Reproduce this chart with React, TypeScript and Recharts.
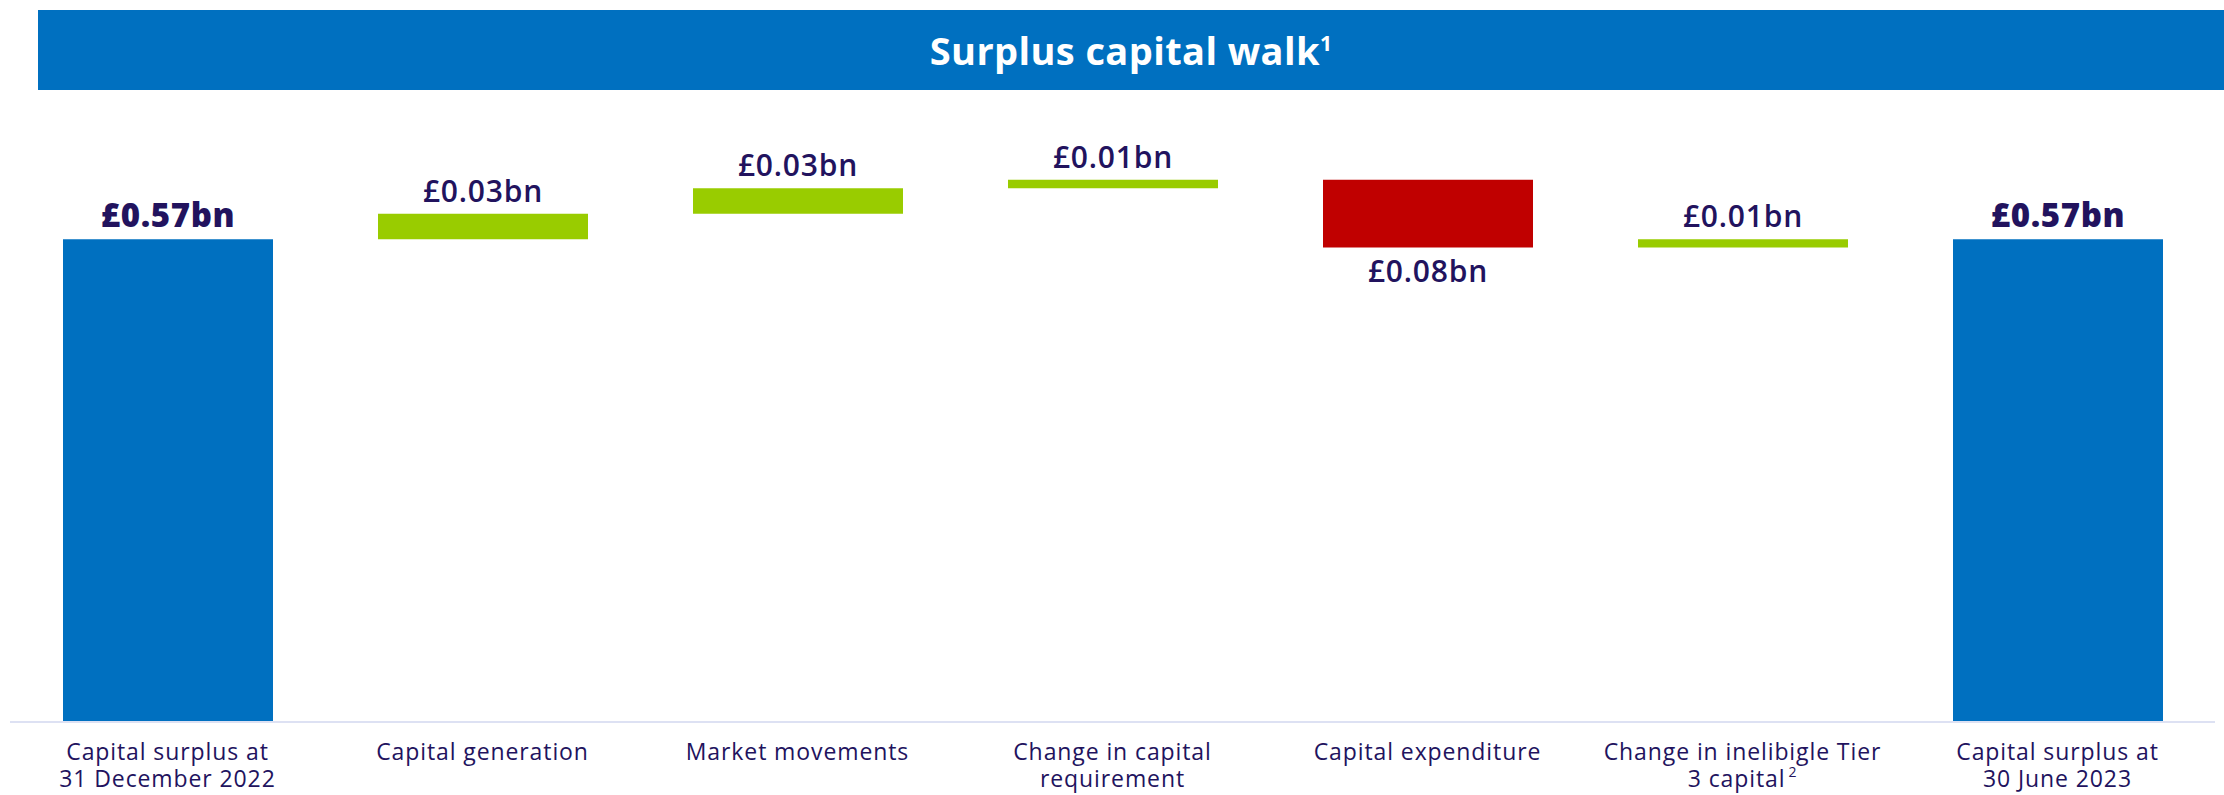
import { Bar, BarChart, Cell, LabelList, XAxis, YAxis } from "recharts";

const categories = [
  "Capital surplus at 31 December 2022",
  "Capital generation",
  "Market movements",
  "Change in capital requirement",
  "Capital expenditure",
  "Change in inelibigle Tier 3 capital",
  "Capital surplus at 30 June 2023",
];
const tickLines = [
  ["Capital surplus at", "31 December 2022"],
  ["Capital generation"],
  ["Market movements"],
  ["Change in capital", "requirement"],
  ["Capital expenditure"],
  ["Change in inelibigle Tier", "3 capital"],
  ["Capital surplus at", "30 June 2023"],
];
const tickSups = ["", "", "", "", "", "2", ""];
const deltas = [0.57, 0.03, 0.03, 0.01, -0.08, 0.01, 0.57];
const kinds = ["total", "step", "step", "step", "step", "step", "total"];

const BLUE = "#0070c0";
const GREEN = "#99cc00";
const RED = "#c00000";
const NAVY = "#22135e";
const FONT = "'Open Sans', 'Noto Sans', sans-serif";

let running = 0;
const rows = categories.map((name, i) => {
  const d = deltas[i];
  let base = 0;
  if (kinds[i] === "total") {
    running = d;
  } else if (d >= 0) {
    base = running;
    running += d;
  } else {
    running += d;
    base = running;
  }
  return { name, base, value: Math.abs(d), delta: d, kind: kinds[i] };
});

function barColor(r: { kind: string; delta: number }) {
  if (r.kind === "total") return BLUE;
  return r.delta < 0 ? RED : GREEN;
}

function ValueLabel(props: any) {
  const { x, y, width, height, index } = props;
  const r = rows[index];
  const text = `£${r.value.toFixed(2)}bn`;
  const cx = x + width / 2;
  const total = r.kind === "total";
  if (r.delta < 0) {
    return (
      <text x={cx} y={y + height + 34} textAnchor="middle" fill={NAVY} fontFamily={FONT} fontSize={30} fontWeight={600} letterSpacing={0.8}>
        {text}
      </text>
    );
  }
  return (
    <text
      x={cx}
      y={y - 12}
      textAnchor="middle"
      fill={NAVY}
      fontFamily={FONT}
      fontSize={total ? 33 : 30}
      fontWeight={total ? 800 : 600}
      letterSpacing={total ? 0.6 : 0.8}
    >
      {text}
    </text>
  );
}

function CategoryTick(props: any) {
  const { x, y, index } = props;
  const lines = tickLines[index] || [];
  const sup = tickSups[index];
  return (
    <g>
      {lines.map((l, i) => (
        <text
          key={i}
          x={x}
          y={y + 38 + i * 27}
          textAnchor="middle"
          fill={NAVY}
          fontFamily={FONT}
          fontSize={23}
          letterSpacing={0.9}
        >
          {l}
          {i === lines.length - 1 && sup ? (
            <tspan fontSize={14} dy={-10} dx={3}>{sup}</tspan>
          ) : null}
        </text>
      ))}
    </g>
  );
}

export default function App() {
  return (
    <div style={{ position: "relative", width: 2224, height: 795, background: "#fff" }}>
      <style>{`body{margin:0}`}</style>
      <div
        style={{
          position: "absolute",
          left: 38,
          top: 10,
          width: 2186,
          height: 80,
          background: BLUE,
          color: "#fff",
          fontFamily: FONT,
          fontWeight: 700,
          fontSize: 38,
          letterSpacing: 0.4,
          display: "flex",
          alignItems: "center",
          justifyContent: "center",
        }}
      >
        <span>
          Surplus capital walk<sup style={{ fontSize: 21 }}>1</sup>
        </span>
      </div>
      <BarChart width={2224} height={795} data={rows} margin={{ top: 129, right: 9, left: 10, bottom: 0 }} barSize={210}>
        <XAxis
          dataKey="name"
          height={73}
          interval={0}
          tickLine={false}
          tickSize={0}
          tickMargin={0}
          axisLine={{ stroke: "#dde1f3", strokeWidth: 2 }}
          tick={<CategoryTick />}
        />
        <YAxis hide domain={[0, 0.7]} />
        <Bar dataKey="base" stackId="w" fill="transparent" isAnimationActive={false} />
        <Bar dataKey="value" stackId="w" isAnimationActive={false}>
          {rows.map((r, i) => (
            <Cell key={i} fill={barColor(r)} />
          ))}
          <LabelList dataKey="value" content={<ValueLabel />} />
        </Bar>
      </BarChart>
    </div>
  );
}
